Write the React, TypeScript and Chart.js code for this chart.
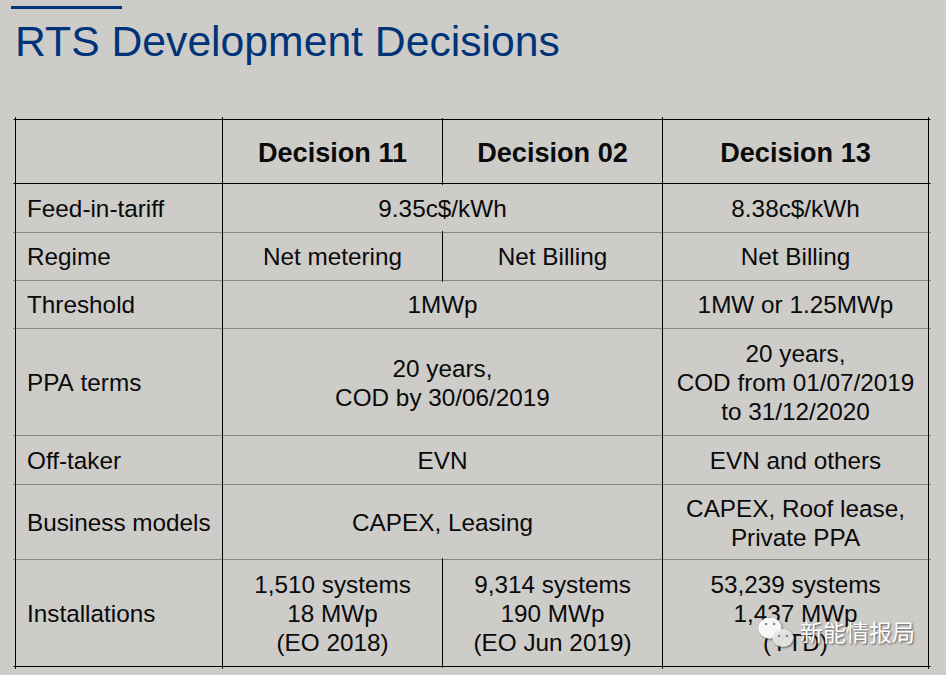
import { useEffect, useRef } from "react";
import { Chart, registerables } from "chart.js";

Chart.register(...registerables);

const TITLE = "RTS Development Decisions";
const WATERMARK = "新能情报局";

const rowLabels = [
  "",
  "Feed-in-tariff",
  "Regime",
  "Threshold",
  "PPA terms",
  "Off-taker",
  "Business models",
  "Installations",
];
const decision11 = [
  "Decision 11",
  "9.35c$/kWh",
  "Net metering",
  "1MWp",
  "20 years,\nCOD by 30/06/2019",
  "EVN",
  "CAPEX, Leasing",
  "1,510 systems\n18 MWp\n(EO 2018)",
];
const decision02 = [
  "Decision 02",
  "9.35c$/kWh",
  "Net Billing",
  "1MWp",
  "20 years,\nCOD by 30/06/2019",
  "EVN",
  "CAPEX, Leasing",
  "9,314 systems\n190 MWp\n(EO Jun 2019)",
];
const decision13 = [
  "Decision 13",
  "8.38c$/kWh",
  "Net Billing",
  "1MW or 1.25MWp",
  "20 years,\nCOD from 01/07/2019\nto 31/12/2020",
  "EVN and others",
  "CAPEX, Roof lease,\nPrivate PPA",
  "53,239 systems\n1,437 MWp\n(YTD)",
];

// table layout, in page pixels (rules sit on the pixel centre)
const colEdges = [15.5, 222.5, 442.5, 662.5, 928.5];
const rowEdges = [119.5, 183.5, 232.5, 280.5, 328.5, 435.5, 484.5, 559.5, 666.5];

const BG = "#cdccc9";
const BLUE = "#003478";
const FONT = '"Liberation Sans", Arial, sans-serif';
const LINE_H = 29;

const isMerged = (r: number) => decision11[r] === decision02[r];

function buildRules() {
  const seg = (x0: number, y0: number, x1: number, y1: number, dotted = false) => ({
    data: [
      { x: x0, y: y0 },
      { x: x1, y: y1 },
    ],
    showLine: true,
    pointRadius: 0,
    borderWidth: 1,
    borderColor: dotted ? "#444444" : "#000000",
    borderDash: dotted ? [1, 1] : [],
  });
  const left = colEdges[0] - 2;
  const right = colEdges[4] + 2;
  const sets = rowEdges.map((y, i) => seg(left, y, right, y, i > 1 && i < rowEdges.length - 1));
  [0, 1, 3, 4].forEach((c) =>
    sets.push(seg(colEdges[c], rowEdges[0] - 2, colEdges[c], rowEdges[8] + 2)),
  );
  rowLabels.forEach((_, r) => {
    if (!isMerged(r)) sets.push(seg(colEdges[2], rowEdges[r] - 1, colEdges[2], rowEdges[r + 1] + 1));
  });
  return sets;
}

const tablePlugin = {
  id: "tableText",
  beforeDraw(chart: Chart) {
    const { ctx, width, height } = chart;
    ctx.save();
    ctx.fillStyle = BG;
    ctx.fillRect(0, 0, width, height);
    ctx.restore();
  },
  afterDatasetsDraw(chart: Chart) {
    const { ctx } = chart;
    const px = (v: number) => chart.scales.x.getPixelForValue(v);
    const py = (v: number) => chart.scales.y.getPixelForValue(v);

    const block = (text: string, x: number, yMid: number) => {
      const lines = text.split("\n");
      lines.forEach((l, i) => {
        ctx.fillText(l, x, yMid + (i - (lines.length - 1) / 2) * LINE_H);
      });
    };

    ctx.save();
    ctx.textBaseline = "middle";

    // title and rule above it
    ctx.fillStyle = BLUE;
    ctx.fillRect(px(11), py(6), 111, 3);
    ctx.font = `42.7px ${FONT}`;
    ctx.textAlign = "left";
    ctx.fillText(TITLE, px(15), py(44));

    ctx.fillStyle = "#0a0a0a";
    rowLabels.forEach((label, r) => {
      const centre = (rowEdges[r] + rowEdges[r + 1]) / 2 + (r === 0 ? 3 : 2.5);
      const mid = py(Math.floor(centre - 0.5) + 0.5);
      ctx.font = r === 0 ? `bold 27.1px ${FONT}` : `24.3px ${FONT}`;
      ctx.textAlign = "left";
      if (label) block(label, px(27), mid);
      ctx.textAlign = "center";
      if (isMerged(r)) {
        block(decision11[r], px((colEdges[1] + colEdges[3]) / 2), mid);
      } else {
        block(decision11[r], px((colEdges[1] + colEdges[2]) / 2), mid);
        block(decision02[r], px((colEdges[2] + colEdges[3]) / 2), mid);
      }
      block(decision13[r], px((colEdges[3] + colEdges[4]) / 2), mid);
    });

    // watermark over the bottom right corner
    ctx.shadowColor = "rgba(60,60,60,0.8)";
    ctx.shadowBlur = 2;
    ctx.shadowOffsetX = 1;
    ctx.shadowOffsetY = 1;
    ctx.fillStyle = "rgba(255,255,255,0.95)";
    ctx.beginPath();
    ctx.ellipse(px(770), py(628), 11.5, 10.5, 0, 0, Math.PI * 2);
    ctx.fill();
    ctx.fillStyle = "rgba(240,240,238,0.9)";
    ctx.beginPath();
    ctx.ellipse(px(783), py(638), 10.5, 9, 0, 0, Math.PI * 2);
    ctx.fill();
    ctx.shadowColor = "transparent";
    ctx.fillStyle = "#8a8a88";
    [
      [766, 624],
      [774, 624],
      [779, 636],
      [787, 636],
    ].forEach(([x, y]) => {
      ctx.beginPath();
      ctx.arc(px(x), py(y), 1.3, 0, Math.PI * 2);
      ctx.fill();
    });
    ctx.shadowColor = "rgba(60,60,60,0.8)";
    ctx.fillStyle = "#ffffff";
    ctx.font = `23px "Noto Sans CJK SC", sans-serif`;
    ctx.textAlign = "left";
    ctx.fillText(WATERMARK, px(800), py(632));
    ctx.restore();
  },
};

export default function App() {
  const canvasRef = useRef<HTMLCanvasElement>(null);

  useEffect(() => {
    document.body.style.margin = "0";
    document.body.style.background = BG;
    if (!canvasRef.current) return;
    // opaque context so text gets the same smoothing as the screenshot
    canvasRef.current.getContext("2d", { alpha: false });
    const chart = new Chart(canvasRef.current, {
      type: "scatter",
      data: { datasets: buildRules() as any },
      options: {
        animation: false,
        responsive: false,
        devicePixelRatio: 1,
        layout: { padding: 0 },
        plugins: { legend: { display: false }, tooltip: { enabled: false } },
        scales: {
          x: { type: "linear", min: 0, max: 946, display: false },
          y: { type: "linear", min: 0, max: 675, reverse: true, display: false },
        },
      },
      plugins: [tablePlugin],
    });
    return () => chart.destroy();
  }, []);

  return <canvas ref={canvasRef} width={946} height={675} style={{ display: "block" }} />;
}
